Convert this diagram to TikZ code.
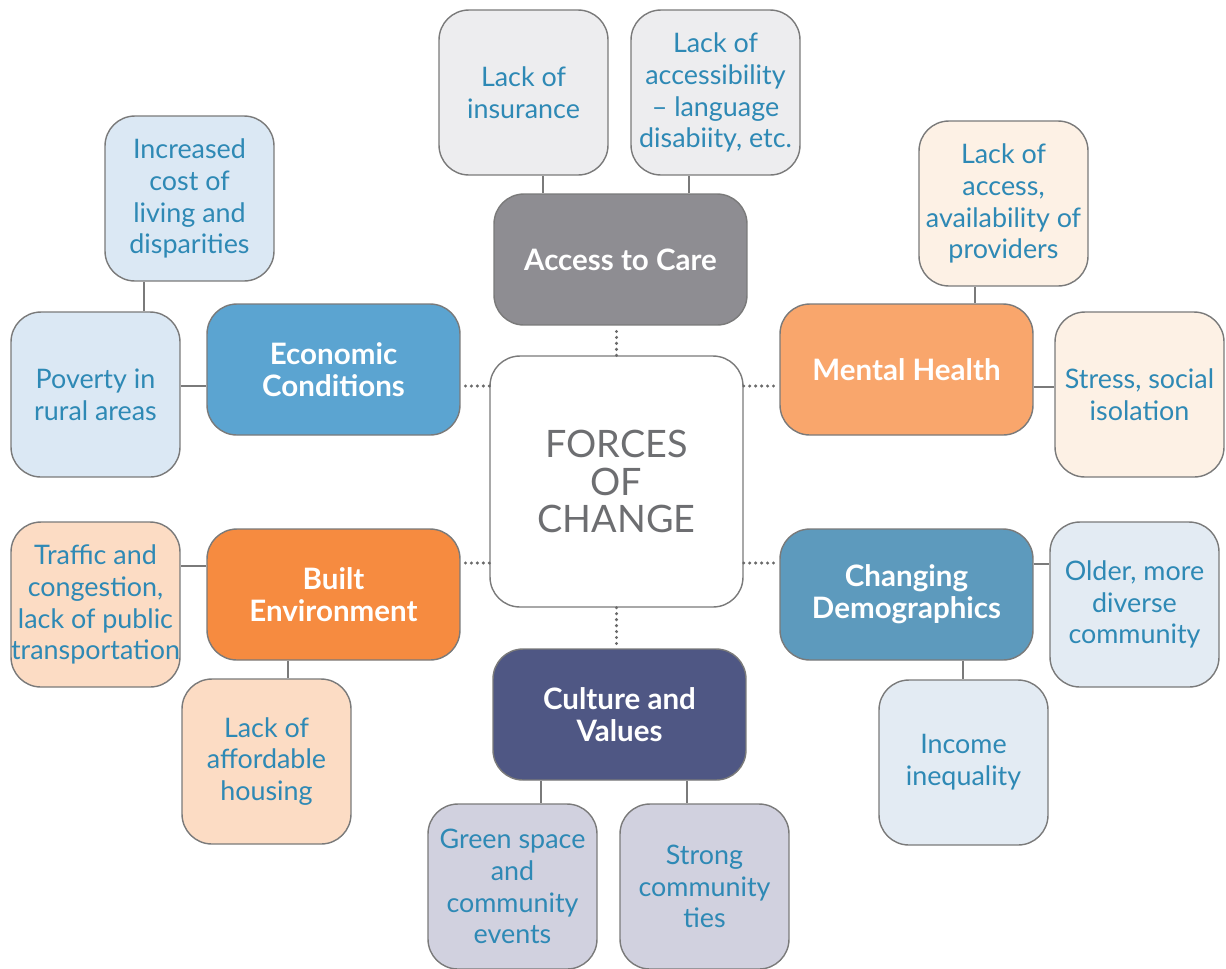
\documentclass[tikz,border=0pt]{standalone}
\usepackage{fontspec}
\setmainfont{Lato}
\usetikzlibrary{calc}
\definecolor{edge}{HTML}{7A7A7A}
\definecolor{dotgray}{HTML}{6A6A6A}
\definecolor{leaftext}{HTML}{2E89B5}
\definecolor{forcetext}{HTML}{6D6E71}
\definecolor{carefill}{HTML}{8E8D92}
\definecolor{econfill}{HTML}{5BA4D1}
\definecolor{mentalfill}{HTML}{F9A66C}
\definecolor{builtfill}{HTML}{F68B40}
\definecolor{demofill}{HTML}{5D9ABD}
\definecolor{culturefill}{HTML}{4F5784}
\definecolor{careleaf}{HTML}{EDEDEF}
\definecolor{econleaf}{HTML}{DBE8F4}
\definecolor{mentalleaf}{HTML}{FDF1E5}
\definecolor{builtleaf}{HTML}{FCDCC4}
\definecolor{demoleaf}{HTML}{E3EBF3}
\definecolor{cultureleaf}{HTML}{D1D1DF}
\tikzset{
  force/.style={draw=edge, line width=0.8pt, rounded corners=17pt, align=center,
    minimum width=5.06cm, minimum height=2.62cm, inner sep=2pt, text=white,
    font=\fontsize{16.8}{18.2}\selectfont\bfseries},
  leaf/.style={draw=edge, line width=0.8pt, rounded corners=17pt, align=center,
    minimum width=3.38cm, minimum height=3.3cm, inner sep=0pt, text=leaftext,
    font=\fontsize{15.3}{18.1}\selectfont},
  link/.style={draw=edge, line width=0.9pt},
  dots/.style={draw=dotgray, line width=1.9pt, line cap=round, dash pattern=on 0pt off 3.4pt}
}
\begin{document}
\begin{tikzpicture}[x=0.02cm, y=-0.02cm]
			%%%%% START %%%%%
			\useasboundingbox (0,0) rectangle (1226,968);
			\clip (0,0) rectangle (1226,968);
			
			% centre
			\node[draw=edge, line width=0.8pt, rounded corners=17pt, align=center, fill=white,
			  minimum width=5.06cm, minimum height=5.02cm, text=forcetext,
			  font=\fontsize{21.5}{21.2}\selectfont] (forces) at (616.5,481.5) {FORCES\\OF\\CHANGE};
			
			% forces
			\node[force, fill=carefill] (care) at (620.5,259.5) {Access to Care};
			\node[force, fill=econfill] (econ) at (333.5,369.5) {Economic\\Conditions};
			\node[force, fill=mentalfill] (mental) at (906.5,369.5) {Mental Health};
			\node[force, fill=builtfill] (built) at (333.5,594.5) {Built\\Environment};
			\node[force, fill=demofill] (demo) at (906.5,594.5) {Changing\\Demographics};
			\node[force, fill=culturefill] (culture) at (619.5,714.5) {Culture and\\Values};
			
			% leaves
			\node[leaf, fill=careleaf] (insurance) at (523.5,92.5) {Lack of\\insurance};
			\node[leaf, fill=careleaf] (access) at (715.5,92.5) {Lack of\\accessibility\\-- language\\disabiity, etc.};
			\node[leaf, fill=econleaf] (cost) at (189.5,198.5) {Increased\\cost of\\living and\\disparities};
			\node[leaf, fill=econleaf] (poverty) at (95.5,394.5) {Poverty in\\rural areas};
			\node[leaf, fill=mentalleaf] (providers) at (1003.5,203.5) {Lack of\\access,\\availability of\\providers};
			\node[leaf, fill=mentalleaf] (stress) at (1139.5,394.5) {Stress, social\\isolation};
			\node[leaf, fill=builtleaf] (traffic) at (95.5,604.5) {Traffic and\\congestion,\\lack of public\\transportation};
			\node[leaf, fill=builtleaf] (housing) at (266.5,761.5) {Lack of\\affordable\\housing};
			\node[leaf, fill=demoleaf] (older) at (1134.5,604.5) {Older, more\\diverse\\community};
			\node[leaf, fill=demoleaf] (income) at (963.5,762.5) {Income\\inequality};
			\node[leaf, fill=cultureleaf] (green) at (512.5,886.5) {Green space\\and\\community\\events};
			\node[leaf, fill=cultureleaf] (ties) at (704.5,886.5) {Strong\\community\\ties};
			
			% dotted links to the centre
			\draw[dots] (forces.north) -- (forces.north |- care.south);
			\draw[dots] (forces.west |- 0,386) -- (econ.east |- 0,386);
			\draw[dots] (forces.east |- 0,386) -- (mental.west |- 0,386);
			\draw[dots] (forces.west |- 0,563) -- (built.east |- 0,563);
			\draw[dots] (forces.east |- 0,563) -- (demo.west |- 0,563);
			\draw[dots] (forces.south) -- (forces.south |- culture.north);
			
			% solid links to the leaves
			\draw[link] (care.north -| 543,0) -- (insurance.south -| 543,0);
			\draw[link] (care.north -| 689,0) -- (access.south -| 689,0);
			\draw[link] (cost.south -| 144,0) -- (poverty.north -| 144,0);
			\draw[link] (poverty.east |- 0,386) -- (econ.west |- 0,386);
			\draw[link] (providers.south -| 975,0) -- (mental.north -| 975,0);
			\draw[link] (mental.east |- 0,387) -- (stress.west |- 0,387);
			\draw[link] (built.west |- 0,566) -- (traffic.east |- 0,566);
			\draw[link] (built.south -| 288,0) -- (housing.north -| 288,0);
			\draw[link] (demo.east |- 0,564) -- (older.west |- 0,564);
			\draw[link] (demo.south -| 963,0) -- (income.north -| 963,0);
			\draw[link] (culture.south -| 541,0) -- (green.north -| 541,0);
			\draw[link] (culture.south -| 687,0) -- (ties.north -| 687,0);
			
			%%%%% END %%%%%
		\end{tikzpicture}
\end{document}
